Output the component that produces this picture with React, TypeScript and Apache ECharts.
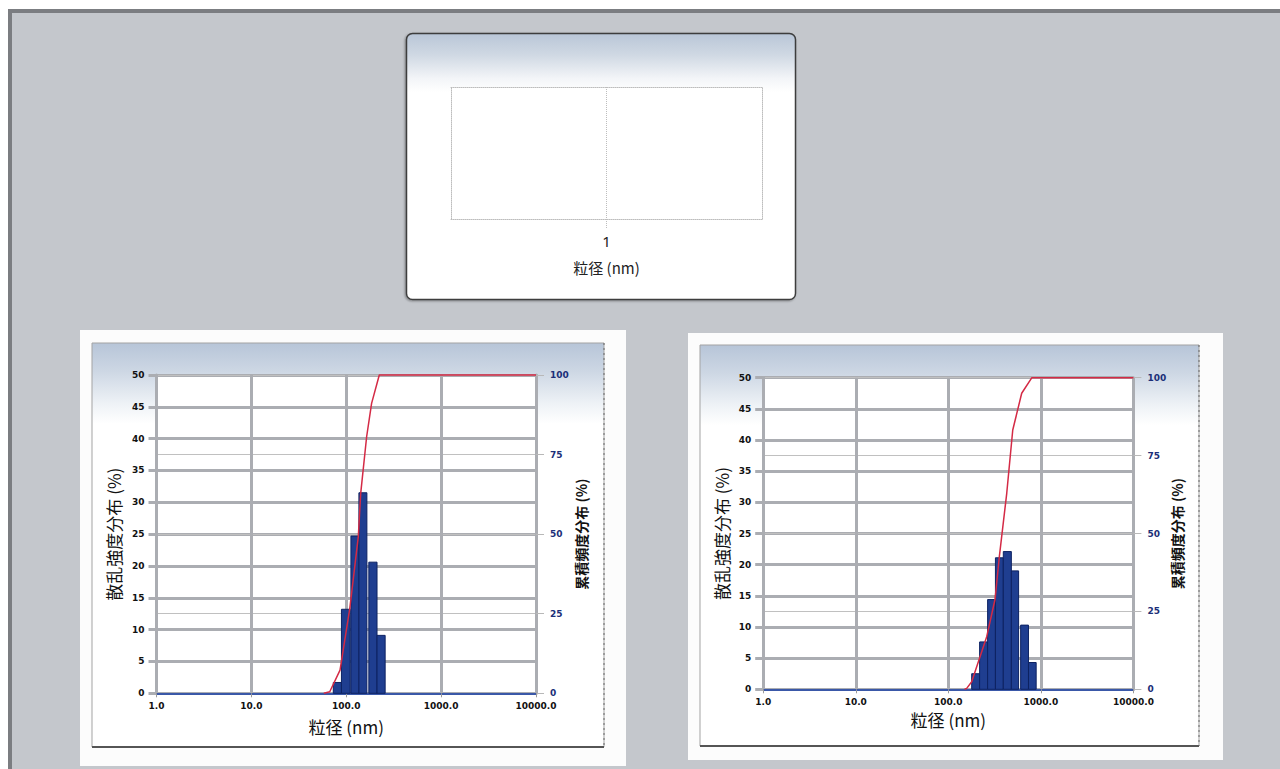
import React, { useEffect, useRef } from "react";
import * as echarts from "echarts";

// ---- data ----
const topTickValues = [1];

const xTickDecades = [1, 10, 100, 1000, 10000];

// Sample A (left chart): bins in nm, scattering intensity (%)
const aBinLow = [73, 89, 112, 136, 173, 211];
const aBinHigh = [89, 110, 136, 165, 211, 257];
const aIntensity = [1.7, 13.2, 24.7, 31.5, 20.6, 9.1];
const aCumSize = [58, 67, 86, 109, 134, 142, 164, 185, 223, 10000];
const aCumPct = [0, 0.5, 7.3, 26.7, 49.2, 62.8, 80.6, 91.1, 100, 100];

// Sample B (right chart)
const bBinLow = [179, 218, 266, 323, 393, 480, 605, 735];
const bBinHigh = [218, 266, 323, 393, 480, 575, 735, 890];
const bIntensity = [2.5, 7.6, 14.4, 21.1, 22.1, 19.0, 10.3, 4.3];
const bCumSize = [150, 158, 179, 260, 320, 356, 428, 497, 621, 800, 10000];
const bCumPct = [0, 0.3, 2.4, 16.9, 28.9, 42.6, 62.9, 83.2, 95, 100, 100];

const CJK = "'Noto Sans CJK JP', 'Noto Sans', sans-serif";
const TICK = "'DejaVu Sans', 'Liberation Sans', sans-serif";
const GRID_GRAY = "#abadb2";

const renderBin = (_params: any, api: any) => {
  const p0 = api.coord([api.value(0), api.value(2)]);
  const p1 = api.coord([api.value(1), 0]);
  return {
    type: "rect",
    shape: { x: p0[0], y: p0[1], width: p1[0] - p0[0], height: p1[1] - p0[1] },
    style: { fill: "#1f3e90", stroke: "#0d2262", lineWidth: 1 },
  };
};

const panelGradient = (stops: [number, string][]) => ({
  type: "linear",
  x: 0,
  y: 0,
  x2: 0,
  y2: 1,
  colorStops: stops.map(([offset, color]) => ({ offset, color })),
});

const logXAxis = (gridIndex: number, nameGap: number) => ({
  gridIndex,
  type: "log",
  logBase: 10,
  min: xTickDecades[0],
  max: xTickDecades[xTickDecades.length - 1],
  axisLine: { show: true, onZero: false, lineStyle: { color: "#3a58a8", width: 2 } },
  axisTick: { show: true, length: 4, lineStyle: { color: "#999" } },
  axisLabel: {
    formatter: (v: number) => Number(v).toFixed(1),
    fontSize: 9,
    fontWeight: "bold",
    fontFamily: TICK,
    color: "#111",
    margin: 8,
  },
  splitLine: { show: true, lineStyle: { color: GRID_GRAY, width: 3 } },
  minorTick: { show: false },
  name: "粒径 (nm)",
  nameLocation: "middle",
  nameGap,
  nameTextStyle: { fontSize: 17, color: "#111", fontFamily: CJK },
});

const leftYAxis = (gridIndex: number, nameGap: number) => ({
  gridIndex,
  type: "value",
  min: 0,
  max: 50,
  interval: 5,
  axisLine: { show: true, onZero: false, lineStyle: { color: GRID_GRAY, width: 3 } },
  axisTick: { show: true, length: 8, lineStyle: { color: GRID_GRAY, width: 3 } },
  axisLabel: { fontSize: 9, fontWeight: "bold", fontFamily: TICK, color: "#111", margin: 12 },
  splitLine: { show: true, lineStyle: { color: GRID_GRAY, width: 3 } },
  name: "散乱強度分布 (%)",
  nameLocation: "middle",
  nameGap,
  nameTextStyle: { fontSize: 17, color: "#111", fontFamily: CJK },
});

const rightYAxis = (gridIndex: number, nameGap: number) => ({
  gridIndex,
  type: "value",
  position: "right",
  min: 0,
  max: 100,
  interval: 25,
  axisLine: { show: true, onZero: false, lineStyle: { color: GRID_GRAY, width: 3 } },
  axisTick: { show: true, length: 8, lineStyle: { color: "#b8b8b8", width: 1 } },
  axisLabel: { fontSize: 9, fontWeight: "bold", fontFamily: TICK, color: "#1b2f78", margin: 14 },
  splitLine: { show: true, lineStyle: { color: "#c0c0c0", width: 1 } },
  name: "累積頻度分布 (%)",
  nameLocation: "middle",
  nameGap,
  nameTextStyle: { fontSize: 14, fontWeight: "bold", color: "#111", fontFamily: CJK },
});

const dotted = { color: "#bdbdbd", type: "dotted", width: 1 };

const option: any = {
  animation: false,
  backgroundColor: "#ffffff",
  graphic: {
    elements: [
      {
        type: "rect",
        z: -10,
        silent: true,
        shape: { x: 10, y: 11, width: 1300, height: 790 },
        style: { fill: "#c4c7cc", stroke: "#7b7d81", lineWidth: 4 },
      },
      // top panel
      {
        type: "rect",
        z: -10,
        silent: true,
        shape: { x: 406.5, y: 33.5, width: 389, height: 266, r: 6 },
        style: {
          fill: panelGradient([
            [0, "#b9c6d7"],
            [0.08, "#cfd8e3"],
            [0.17, "#f3f5f8"],
            [0.22, "#ffffff"],
            [1, "#ffffff"],
          ]),
          stroke: "#3e3e3e",
          lineWidth: 1.5,
          shadowColor: "rgba(0,0,0,0.35)",
          shadowBlur: 2,
          shadowOffsetX: -1,
          shadowOffsetY: 1,
        },
      },
      // left frame
      {
        type: "rect",
        z: -10,
        silent: true,
        shape: { x: 80, y: 330, width: 546, height: 436 },
        style: { fill: "#fcfcfc" },
      },
      {
        type: "rect",
        z: -9,
        silent: true,
        shape: { x: 92, y: 343, width: 512, height: 404 },
        style: {
          fill: panelGradient([
            [0, "#b7c5d8"],
            [0.07, "#cdd7e4"],
            [0.15, "#eef2f6"],
            [0.2, "#ffffff"],
            [1, "#ffffff"],
          ]),
          stroke: "#a3a3a3",
          lineWidth: 1,
        },
      },
      {
        type: "line",
        z: -8,
        silent: true,
        shape: { x1: 92, y1: 747, x2: 604, y2: 747 },
        style: { stroke: "#555", lineWidth: 2 },
      },
      {
        type: "line",
        z: -8,
        silent: true,
        shape: { x1: 604, y1: 343, x2: 604, y2: 747 },
        style: { stroke: "#666", lineWidth: 1, lineDash: [2, 3] },
      },
      // right frame
      {
        type: "rect",
        z: -10,
        silent: true,
        shape: { x: 688, y: 333, width: 535, height: 427 },
        style: { fill: "#fcfcfc" },
      },
      {
        type: "rect",
        z: -9,
        silent: true,
        shape: { x: 700, y: 345, width: 499, height: 401 },
        style: {
          fill: panelGradient([
            [0, "#b7c5d8"],
            [0.07, "#cdd7e4"],
            [0.15, "#eef2f6"],
            [0.2, "#ffffff"],
            [1, "#ffffff"],
          ]),
          stroke: "#a3a3a3",
          lineWidth: 1,
        },
      },
      {
        type: "line",
        z: -8,
        silent: true,
        shape: { x1: 700, y1: 746, x2: 1199, y2: 746 },
        style: { stroke: "#555", lineWidth: 2 },
      },
      {
        type: "line",
        z: -8,
        silent: true,
        shape: { x1: 1199, y1: 345, x2: 1199, y2: 746 },
        style: { stroke: "#666", lineWidth: 1, lineDash: [2, 3] },
      },
    ],
  },
  grid: [
    { left: 451, top: 87, width: 311, height: 132, show: true, backgroundColor: "#fff", borderWidth: 0 },
    { left: 156.5, top: 375, width: 379.5, height: 318.3, show: true, backgroundColor: "#fff", borderWidth: 0 },
    { left: 763.2, top: 377.7, width: 370.2, height: 311.6, show: true, backgroundColor: "#fff", borderWidth: 0 },
  ],
  xAxis: [
    {
      gridIndex: 0,
      type: "value",
      min: 0,
      max: 2,
      interval: 1,
      position: "bottom",
      axisLine: { show: true, onZero: false, lineStyle: dotted },
      axisTick: { show: true, customValues: topTickValues, length: 10, lineStyle: dotted },
      axisLabel: {
        customValues: topTickValues,
        formatter: (v: number) => (topTickValues.includes(v) ? String(v) : ""),
        fontSize: 15,
        color: "#222",
        fontFamily: "'Noto Sans', sans-serif",
        margin: 14,
      },
      splitLine: { show: true, lineStyle: dotted },
      name: "粒径 (nm)",
      nameLocation: "middle",
      nameGap: 41,
      nameTextStyle: { fontSize: 15, color: "#222", fontFamily: CJK },
    },
    {
      gridIndex: 0,
      type: "value",
      min: 0,
      max: 2,
      position: "top",
      axisLine: { show: true, onZero: false, lineStyle: dotted },
      axisTick: { show: false },
      axisLabel: { show: false },
      splitLine: { show: false },
    },
    logXAxis(1, 25),
    logXAxis(2, 22),
  ],
  yAxis: [
    {
      gridIndex: 0,
      type: "value",
      min: 0,
      max: 1,
      position: "left",
      axisLine: { show: true, onZero: false, lineStyle: dotted },
      axisTick: { show: false },
      axisLabel: { show: false },
      splitLine: { show: false },
    },
    {
      gridIndex: 0,
      type: "value",
      position: "right",
      min: 0,
      max: 1,
      axisLine: { show: true, onZero: false, lineStyle: dotted },
      axisTick: { show: false },
      axisLabel: { show: false },
      splitLine: { show: false },
    },
    leftYAxis(1, 35),
    rightYAxis(1, 38),
    leftYAxis(2, 33),
    rightYAxis(2, 36),
  ],
  series: [
    {
      type: "custom",
      xAxisIndex: 2,
      yAxisIndex: 2,
      renderItem: renderBin,
      encode: { x: [0, 1], y: 2 },
      data: aBinLow.map((lo, i) => [lo, aBinHigh[i], aIntensity[i]]),
      clip: false,
    },
    {
      type: "line",
      xAxisIndex: 2,
      yAxisIndex: 3,
      data: aCumSize.map((x, i) => [x, aCumPct[i]]),
      showSymbol: false,
      symbol: "none",
      clip: false,
      lineStyle: { color: "#d42a45", width: 1.5 },
    },
    {
      type: "custom",
      xAxisIndex: 3,
      yAxisIndex: 4,
      renderItem: renderBin,
      encode: { x: [0, 1], y: 2 },
      data: bBinLow.map((lo, i) => [lo, bBinHigh[i], bIntensity[i]]),
      clip: false,
    },
    {
      type: "line",
      xAxisIndex: 3,
      yAxisIndex: 5,
      data: bCumSize.map((x, i) => [x, bCumPct[i]]),
      showSymbol: false,
      symbol: "none",
      clip: false,
      lineStyle: { color: "#d42a45", width: 1.5 },
    },
  ],
};

export default function App() {
  const ref = useRef<HTMLDivElement>(null);
  useEffect(() => {
    if (!ref.current) return;
    const chart = echarts.init(ref.current, null, { renderer: "svg" });
    chart.setOption(option);
    return () => chart.dispose();
  }, []);
  return (
    <div
      ref={ref}
      style={{ position: "fixed", left: 0, top: 0, width: 1280, height: 769 }}
    />
  );
}
